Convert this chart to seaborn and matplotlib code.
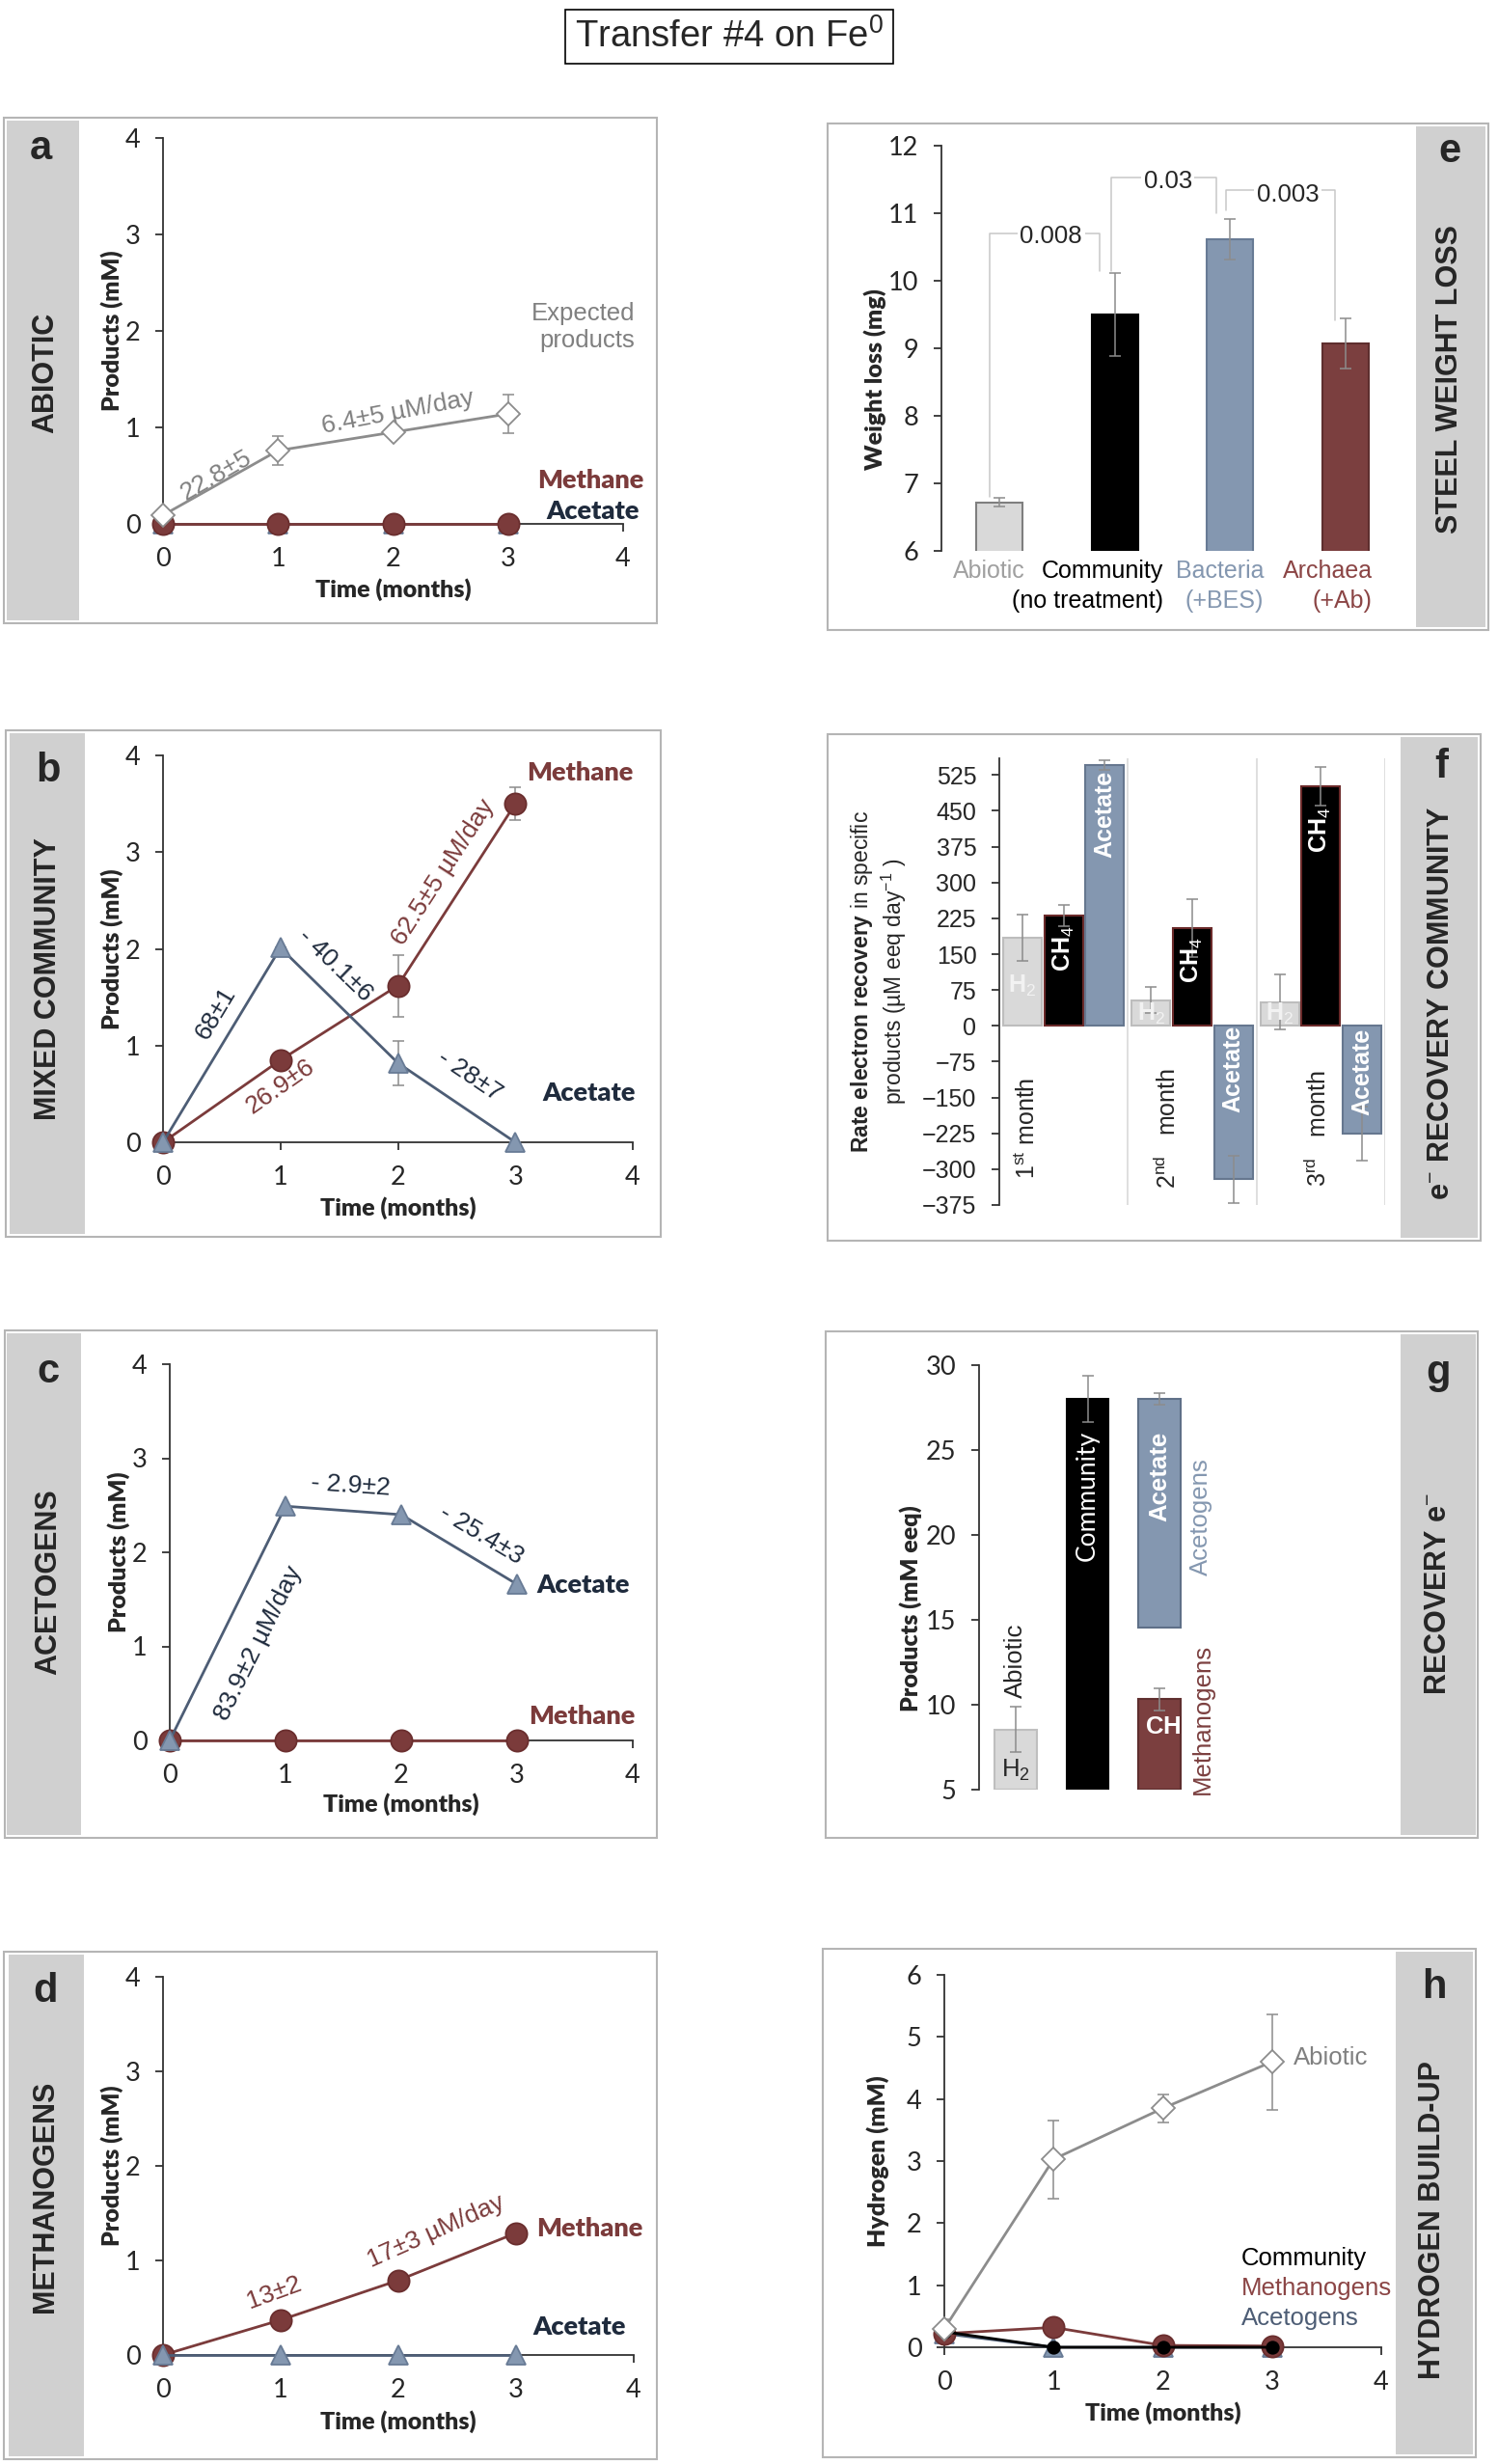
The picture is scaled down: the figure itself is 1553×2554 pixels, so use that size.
import matplotlib
matplotlib.use("Agg")
import matplotlib.pyplot as plt
from matplotlib.patches import Rectangle
import numpy as np
import pandas as pd
import seaborn as sns

# ---------------- data ----------------
months = [0, 1, 2, 3]

# a  abiotic
a_expected = [0.09, 0.76, 0.95, 1.14]
a_expected_err = [0.0, 0.15, 0.03, 0.20]
a_methane = [0, 0, 0, 0]
a_acetate = [0, 0, 0, 0]

# b  mixed community
b_acetate = [0, 2.01, 0.82, 0]
b_acetate_err = [0, 0, 0.23, 0]
b_methane = [0, 0.85, 1.62, 3.50]
b_methane_err = [0, 0.03, 0.32, 0.17]

# c  acetogens
c_acetate = [0, 2.49, 2.40, 1.66]
c_methane = [0, 0, 0, 0]

# d  methanogens
d_methane = [0, 0.37, 0.79, 1.29]
d_acetate = [0, 0, 0, 0]

# e  steel weight loss
e_groups = ["Abiotic", "Community\n(no treatment)", "Bacteria\n(+BES)", "Archaea\n(+Ab)"]
e_weight = [6.72, 9.50, 10.62, 9.07]
e_err = [0.06, 0.61, 0.30, 0.37]
e_pvalues = ["0.008", "0.03", "0.003"]

# f  electron recovery rate
f_months = ["1st", "2nd", "3rd"]
f_products = ["H2", "CH4", "Acetate"]
f_h2 = [184, 54, 50]
f_h2_err = [48, 27, 58]
f_ch4 = [231, 204, 502]
f_ch4_err = [22, 61, 40]
f_acetate = [546, -321, -226]
f_acetate_err = [10, 49, 56]

# g  recovery e-
g_groups = ["Abiotic", "Community", "Acetogens", "Methanogens"]
g_bottom = [5.0, 5.0, 14.57, 5.0]
g_top = [8.55, 28.0, 28.0, 10.33]
g_err = [1.31, 1.38, 0.34, 0.66]

# h  hydrogen build-up
h_abiotic = [0.30, 3.03, 3.85, 4.60]
h_abiotic_err = [0.15, 0.63, 0.23, 0.77]
h_methanogens = [0.22, 0.32, 0.03, 0.02]
h_community = [0.25, 0.0, 0.0, 0.0]
h_acetogens = [0.22, 0.0, 0.0, 0.0]

# ---------------- style ----------------
sns.set_style("ticks")
LATO = ["Lato", "DejaVu Sans"]
ARIAL = ["Liberation Sans", "DejaVu Sans"]
plt.rcParams["font.family"] = LATO
plt.rcParams["mathtext.fontset"] = "custom"
plt.rcParams["mathtext.rm"] = "Liberation Sans"
plt.rcParams["mathtext.it"] = "Liberation Sans:italic"
plt.rcParams["mathtext.bf"] = "Liberation Sans:bold"

BROWN = "#7b3b3b"
BROWN_E = "#6a2e2e"
BLUE = "#8497b0"
BLUE_E = "#687b95"
NAVY = "#4d5d75"
NAVY_T = "#1f2b3d"
GRAY_L = "#8c8c8c"
GRAY_T = "#808080"
ERRC = "#8c8c8c"
AXC = "#333333"
FRAME = "#b5b5b5"
STRIP = "#d0d0d0"
HEAVY = "heavy"

METH = dict(color=BROWN, marker="o", ms=16, mfc=BROWN, mec=BROWN_E)
ACET = dict(color=NAVY, marker="^", ms=15, mfc=BLUE, mec=BLUE_E)
EXPT = dict(color=GRAY_L, marker="D", ms=12, mfc="white", mec=GRAY_L)
COMM = dict(color="black", marker="o", ms=9, mfc="black", mec="black")

W, H = 1553, 2554
fig = plt.figure(figsize=(W / 100, H / 100), dpi=100)


def px_axes(x0, x1, y_top, y_bot):
    return fig.add_axes([x0 / W, 1 - y_bot / H, (x1 - x0) / W, (y_bot - y_top) / H])


def frame(box, strip, letter, letter_xy, label, label_xy):
    x0, y0, x1, y1 = box
    fig.add_artist(Rectangle((x0 / W, 1 - y1 / H), (x1 - x0) / W, (y1 - y0) / H,
                             transform=fig.transFigure, fill=False, ec=FRAME, lw=1.5))
    s0, s1 = strip
    fig.add_artist(Rectangle((s0 / W, 1 - (y1 - 3) / H), (s1 - s0) / W, (y1 - y0 - 6) / H,
                             transform=fig.transFigure, fc=STRIP, ec="none", zorder=0))
    fig.text(letter_xy[0] / W, 1 - letter_xy[1] / H, letter, fontsize=30, fontweight="bold",
             family=ARIAL, ha="center", va="center")
    fig.text(label_xy[0] / W, 1 - label_xy[1] / H, label, fontsize=22, fontweight="bold",
             family=ARIAL, ha="center", va="center", rotation=90)


def line(ax, y, st, z, lw=2.0):
    sns.lineplot(x=months, y=y, ax=ax, color=st["color"], marker=st["marker"],
                 markersize=st["ms"], markerfacecolor=st["mfc"], markeredgecolor=st["mec"],
                 markeredgewidth=1.3, linewidth=lw, zorder=z, clip_on=False,
                 errorbar=None, legend=False)


def errs(ax, x, y, e):
    ax.errorbar(x, y, yerr=e, fmt="none", ecolor=ERRC, elinewidth=1.1,
                capsize=4, capthick=1.1, zorder=2.8)


def base_axes(ax, bottom=True):
    ax.set_facecolor("none")
    ax.spines[["top", "right"]].set_visible(False)
    if not bottom:
        ax.spines["bottom"].set_visible(False)
    for s in ("left", "bottom"):
        ax.spines[s].set_color(AXC)
        ax.spines[s].set_linewidth(1.3)
    ax.tick_params(direction="out", length=6, width=1.3, color=AXC, pad=11, labelsize=19.5)


def time_axes(ax, ymax, ylab_x, xlab_y, ylabel="Products (mM)"):
    base_axes(ax)
    ax.set_xlim(0, 4)
    ax.set_ylim(0, ymax)
    ax.set_xticks(range(5))
    ax.set_yticks(range(ymax + 1))
    ax.set_xlabel("Time (months)", fontsize=18, fontweight=HEAVY)
    ax.set_ylabel(ylabel, fontsize=18, fontweight=HEAVY)
    ax.yaxis.set_label_coords(ylab_x, 0.5)
    ax.xaxis.set_label_coords(0.5, xlab_y)


def rate(color, rot):
    return dict(color=color, fontsize=19, family=ARIAL, ha="center", va="center",
                rotation=rot, rotation_mode="anchor")


def tag(color):
    return dict(color=color, fontsize=19.5, fontweight=HEAVY, va="center")


# ---------------- title ----------------
fig.text(756 / W, 1 - 38 / H, "Transfer #4 on Fe$^0$", fontsize=27.5, family=ARIAL,
         ha="center", va="center",
         bbox=dict(boxstyle="square,pad=0.25", fc="white", ec="black", lw=1.2))

# ---------------- frames ----------------
frame((4, 122, 681, 646), (7, 82), "a", (42, 154), "ABIOTIC", (47, 386))
frame((6, 757, 685, 1282), (10, 88), "b", (50, 799), "MIXED COMMUNITY", (50, 1015))
frame((5, 1379, 681, 1905), (7, 84), "c", (50, 1422), "ACETOGENS", (50, 1640))
frame((4, 2023, 681, 2549), (9, 87), "d", (47, 2064), "METHANOGENS", (47, 2277))
frame((858, 128, 1543, 653), (1468, 1540), "e", (1503, 157), "STEEL WEIGHT LOSS", (1503, 393))
frame((858, 761, 1535, 1286), (1452, 1532), "f", (1494, 795),
      "e$^{-}$ RECOVERY COMMUNITY", (1494, 1040))
frame((856, 1380, 1532, 1905), (1452, 1530), "g", (1491, 1423), "RECOVERY e$^{-}$", (1491, 1652))
frame((853, 2020, 1530, 2547), (1447, 1527), "h", (1487, 2060), "HYDROGEN BUILD-UP", (1485, 2301))

# ---------------- a ----------------
ax = px_axes(169, 646, 143, 543)
line(ax, a_acetate, ACET, 3)
line(ax, a_methane, METH, 4)
errs(ax, months, a_expected, a_expected_err)
line(ax, a_expected, EXPT, 5)
time_axes(ax, 4, -0.086, -0.14)
ax.text(0.46, 0.50, "22.8±5", **rate(GRAY_T, 30))
ax.text(2.04, 1.16, "6.4±5 µM/day", **rate(GRAY_T, 10.7))
ax.text(4.1, 2.04, "Expected\nproducts", color=GRAY_T, fontsize=18.5, family=ARIAL,
        ha="right", va="center", multialignment="right", linespacing=1.25)
ax.text(4.18, 0.45, "Methane", ha="right", **tag(BROWN))
ax.text(4.14, 0.13, "Acetate", ha="right", **tag(NAVY_T))

# ---------------- b ----------------
ax = px_axes(169, 656, 783, 1184)
errs(ax, months, b_methane, b_methane_err)
errs(ax, months, b_acetate, b_acetate_err)
line(ax, b_methane, METH, 3)
line(ax, b_acetate, ACET, 4)
time_axes(ax, 4, -0.084, -0.14)
ax.text(0.45, 1.33, "68±1", **rate(NAVY_T, 59))
ax.text(1.47, 1.83, "- 40.1±6", **rate(NAVY_T, -44))
ax.text(1.0, 0.58, "26.9±6", **rate(BROWN, 35))
ax.text(2.39, 2.79, "62.5±5 µM/day", **rate(BROWN, 57))
ax.text(2.61, 0.69, "- 28±7", **rate(NAVY_T, -34))
ax.text(4.0, 3.82, "Methane", ha="right", **tag(BROWN))
ax.text(4.02, 0.51, "Acetate", ha="right", **tag(NAVY_T))

# ---------------- c ----------------
ax = px_axes(176, 656, 1414, 1804)
line(ax, c_methane, METH, 3)
line(ax, c_acetate, ACET, 4)
time_axes(ax, 4, -0.085, -0.14)
ax.text(0.77, 1.03, "83.9±2 µM/day", **rate(NAVY_T, 63.7))
ax.text(1.56, 2.71, "- 2.9±2", **rate(NAVY_T, -4))
ax.text(2.69, 2.19, "- 25.4±3", **rate(NAVY_T, -31))
ax.text(3.17, 1.65, "Acetate", ha="left", **tag(NAVY_T))
ax.text(4.02, 0.26, "Methane", ha="right", **tag(BROWN))

# ---------------- d ----------------
ax = px_axes(169, 657, 2049, 2441)
line(ax, d_methane, METH, 3)
line(ax, d_acetate, ACET, 4)
time_axes(ax, 4, -0.084, -0.145)
ax.text(0.94, 0.66, "13±2", **rate(BROWN, 20))
ax.text(2.32, 1.31, "17±3 µM/day", **rate(BROWN, 24))
ax.text(3.17, 1.34, "Methane", ha="left", **tag(BROWN))
ax.text(3.93, 0.30, "Acetate", ha="right", **tag(NAVY_T))

# ---------------- e ----------------
ax = px_axes(976, 1455, 151, 571)
e_fill = ["#d9d9d9", "black", BLUE, "#7b3f3f"]
e_edge = ["#7f7f7f", "black", BLUE_E, "#5e2e2e"]
e_text = ["#a0a0a0", "black", BLUE, "#8b4545"]
df_e = pd.DataFrame({"group": e_groups, "weight": e_weight})
sns.barplot(data=df_e, x="group", y="weight", hue="group", palette=e_fill, width=0.4,
            saturation=1, errorbar=None, legend=False, ax=ax)
for p, ec in zip(ax.patches, e_edge):
    p.set_edgecolor(ec)
    p.set_linewidth(1.5)
errs(ax, range(4), e_weight, e_err)
base_axes(ax, bottom=False)
ax.set_xlim(-0.5, 3.5)
ax.set_ylim(6, 12)
ax.set_yticks(range(6, 13))
ax.set_xticks([])
ax.set_xlabel("")
# category labels, right-aligned line by line as in the original
for i, (name, c, dx) in enumerate(zip(e_groups, e_text, [0.22, 0.42, 0.29, 0.23])):
    for k, part in enumerate(name.split("\n")):
        ax.text(i + dx, -0.022 - k * 0.074, part, color=c, fontsize=18, family=ARIAL,
                ha="right", va="top", transform=ax.get_xaxis_transform())
ax.set_ylabel("Weight loss (mg)", fontsize=18, fontweight=HEAVY)
ax.yaxis.set_label_coords(-0.119, 0.424)
brackets = [((-0.08, 6.80), (-0.08, 10.70), (0.87, 10.70), (0.87, 10.15), (0.45, 10.66)),
            ((0.97, 10.15), (0.97, 11.53), (1.88, 11.53), (1.88, 11.0), (1.46, 11.47)),
            ((1.96, 11.05), (1.96, 11.35), (2.91, 11.35), (2.91, 9.41), (2.50, 11.27))]
for br, pv in zip(brackets, e_pvalues):
    xs = [pt[0] for pt in br[:4]]
    ys = [pt[1] for pt in br[:4]]
    ax.plot(xs, ys, color="#c8c8c8", lw=1.1, zorder=1, clip_on=False)
    ax.text(br[4][0], br[4][1], pv, fontsize=18.5, family=ARIAL, ha="center", va="center",
            zorder=2, bbox=dict(boxstyle="square,pad=0.1", fc="white", ec="none"))

# ---------------- f ----------------
ax = px_axes(1036, 1436, 786, 1249)
rows = []
for prod, vals, ers in zip(f_products, [f_h2, f_ch4, f_acetate],
                           [f_h2_err, f_ch4_err, f_acetate_err]):
    for m, v, e in zip(f_months, vals, ers):
        rows.append({"month": m, "product": prod, "rate": v, "err": e})
df_f = pd.DataFrame(rows)
f_fill = {"H2": "#d9d9d9", "CH4": "black", "Acetate": BLUE}
f_edge = {"H2": "#bdbdbd", "CH4": "#6b2a2a", "Acetate": "#66778f"}
sns.barplot(data=df_f, x="month", y="rate", hue="product", order=f_months,
            hue_order=f_products, palette=f_fill, width=0.96, gap=0.07, saturation=1,
            errorbar=None, legend=False, ax=ax)
centers = {}
for prod, cont in zip(f_products, ax.containers):
    xs = []
    for bar in cont:
        bar.set_edgecolor(f_edge[prod])
        bar.set_linewidth(1.5)
        xs.append(bar.get_x() + bar.get_width() / 2)
    centers[prod] = xs
    sub = df_f[df_f["product"] == prod]
    errs(ax, xs, sub["rate"].values, sub["err"].values)
for xs in (0.5, 1.5, 2.5):
    ax.axvline(xs, color="#d9d9d9", lw=1.2, zorder=0)
base_axes(ax, bottom=False)
ax.set_xlim(-0.5, 2.5)
ax.set_ylim(-375, 560)
ax.set_yticks(np.arange(-375, 526, 75))
ax.set_xticks([])
ax.tick_params(axis="y", labelsize=18)
for lab in ax.get_yticklabels():
    lab.set_fontfamily(ARIAL)
ax.set_xlabel("")
ax.set_ylabel("$\\mathbf{Rate\\ electron\\ recovery}$ in specific\nproducts (µM eeq day$^{-1}$ )",
              fontsize=16.5, family=ARIAL, linespacing=1.2)
ax.yaxis.set_label_coords(-0.235, 0.5)
lbl = dict(fontsize=18, fontweight="bold", family=ARIAL, ha="center", va="center")
for x, y in zip(centers["H2"], [83, 25, 25]):
    ax.text(x, y, "H$_2$", color="#f2f2f2", **lbl)
for x, y in zip(centers["CH4"], [162, 137, 411]):
    ax.text(x, y, "CH$_4$", color="white", rotation=90, **lbl)
for x, y in zip(centers["Acetate"], [444, -90, -97]):
    ax.text(x, y, "Acetate", color="white", rotation=90, **lbl)
for x, txt in zip([-0.28, 0.805, 1.98],
                  ["1$^{\\mathrm{st}}$ month", "2$^{\\mathrm{nd}}$   month",
                   "3$^{\\mathrm{rd}}$   month"]):
    ax.text(x, -215, txt, rotation=90, fontsize=18, family=ARIAL, ha="center", va="center")

# ---------------- g ----------------
ax = px_axes(1015, 1247, 1415, 1855)
g_pos = {"Abiotic": 0, "Community": 1, "Acetogens": 2, "Methanogens": 2}
g_fill = ["#d9d9d9", "black", BLUE, "#7b3f3f"]
g_edge = ["#bfbfbf", "black", "#5f7088", "#5e2e2e"]
g_bars = {}
for grp, lo, hi, fc, ec in zip(g_groups, g_bottom, g_top, g_fill, g_edge):
    g_bars[grp] = ax.bar(g_pos[grp], hi - lo, bottom=lo, width=0.585, color=fc,
                         edgecolor=ec, lw=1.5)[0]
errs(ax, [g_pos[g] for g in g_groups], g_top, g_err)
base_axes(ax, bottom=False)
ax.set_xlim(-0.51, 2.6)
ax.set_ylim(5, 30)
ax.set_yticks(range(5, 31, 5))
ax.set_xticks([])
ax.set_ylabel("Products (mM eeq)", fontsize=18, fontweight=HEAVY)
ax.yaxis.set_label_coords(-0.254, 0.427)
ax.text(0, 12.58, "Abiotic", rotation=90, fontsize=18.5, family=ARIAL, ha="center", va="center")
ax.text(0, 6.13, "H$_2$", fontsize=18.5, family=ARIAL, ha="center", va="center")
ax.text(1, 22.3, "Community", rotation=90, color="white", fontsize=19, ha="center", va="center")
ax.text(2, 23.46, "Acetate", rotation=90, color="white", fontsize=18.5, fontweight="bold",
        family=ARIAL, ha="center", va="center")
ax.text(2.57, 21.05, "Acetogens", rotation=90, color=BLUE, fontsize=18.5, family=ARIAL,
        ha="center", va="center")
ax.text(2.6, 9.14, "Methanogens", rotation=90, color="#7b3f3f", fontsize=18.5, family=ARIAL,
        ha="center", va="center")
ch4 = ax.text(1.79, 8.64, "CH$_4$", color="white", fontsize=18.5, fontweight="bold",
              family=ARIAL, ha="left", va="center")
ch4.set_clip_path(g_bars["Methanogens"])

# ---------------- h ----------------
ax = px_axes(979, 1432, 2047, 2433)
line(ax, h_acetogens, dict(ACET, ms=14), 3)
line(ax, h_methanogens, METH, 4)
line(ax, h_community, COMM, 5)
errs(ax, months, h_abiotic, h_abiotic_err)
line(ax, h_abiotic, EXPT, 6)
time_axes(ax, 6, -0.126, -0.145, ylabel="Hydrogen (mM)")
ax.text(3.2, 4.66, "Abiotic", color=GRAY_T, fontsize=18.5, family=ARIAL, va="center")
ax.text(2.72, 1.43, "Community", color="black", fontsize=18.5, family=ARIAL, va="center")
ax.text(2.72, 0.95, "Methanogens", color="#8b4545", fontsize=18.5, family=ARIAL, va="center")
ax.text(2.72, 0.47, "Acetogens", color=NAVY, fontsize=18.5, family=ARIAL, va="center")

fig.savefig("out.png", dpi=100)
